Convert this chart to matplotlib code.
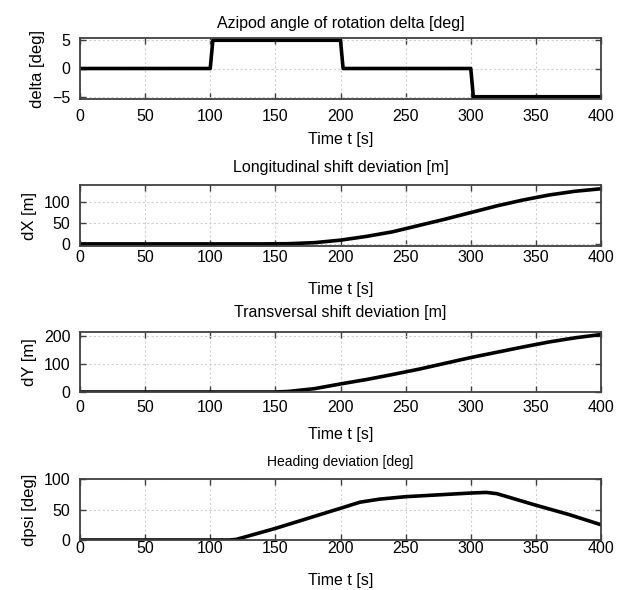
import matplotlib
matplotlib.use("Agg")
import matplotlib.pyplot as plt

plt.rcParams["font.family"] = ["Liberation Sans", "DejaVu Sans"]
plt.rcParams["font.size"] = 11

# rudder (azipod) angle, step manoeuvre
t_delta = [0, 100, 102, 200, 202, 300, 302, 400]
delta = [0, 0, 5, 5, 0, 0, -5, -5]

# longitudinal shift deviation
t_dx = [0, 100, 140, 160, 180, 200, 220, 240, 260, 280, 300, 320, 340, 360, 380, 400]
dx = [0, 0, 0, 0.5, 3, 9, 18, 29, 44, 59, 75, 91, 105, 117, 126, 132]

# transversal shift deviation
t_dy = [0, 100, 150, 160, 180, 200, 220, 240, 260, 280, 300, 320, 340, 360, 380, 400]
dy = [0, 0, 0, 2, 12, 29, 45, 63, 82, 103, 124, 143, 162, 180, 195, 207]

# heading deviation
t_psi = [0, 115, 120, 150, 200, 215, 230, 250, 275, 300, 312, 320, 350, 375, 400]
dpsi = [0, 0, 1, 19, 52, 62, 67, 71, 74, 77, 78, 76, 57, 42, 25]

titles = ["Azipod angle of rotation delta [deg]", "Longitudinal shift deviation [m]",
          "Transversal shift deviation [m]", "Heading deviation [deg]"]
ylabels = ["delta [deg]", "dX [m]", "dY [m]", "dpsi [deg]"]
ylims = [(-5.4, 5.4), (-5, 141), (0, 216), (0, 100)]
yticks = [[-5, 0, 5], [0, 50, 100], [0, 100, 200], [0, 50, 100]]
series = [(t_delta, delta), (t_dx, dx), (t_dy, dy), (t_psi, dpsi)]

W, H = 618, 590
# axes boxes in pixels (top, bottom) and per-panel text spacing
boxes = [(38, 99), (185, 246), (332, 392), (479, 540)]
left, right = 80, 601
tick_pads = [7.2, 3.0, 5.8, 0.8]
xlabel_pads = [5.9, 12.0, 8.8, 12.0]
title_pads = [7.5, 9.6, 11.0, 9.6]
title_sizes = [11.5, 11.5, 11.5, 10]

fig = plt.figure(figsize=(W / 100, H / 100), dpi=100)

for i, ((t, y), (top, bot)) in enumerate(zip(series, boxes)):
    ax = fig.add_axes([left / W, 1 - bot / H, (right - left) / W, (bot - top) / H])
    ax.plot(t, y, color="black", linewidth=2.6, solid_joinstyle="round")
    ax.set_xlim(0, 400)
    ax.set_ylim(*ylims[i])
    ax.set_xticks(range(0, 401, 50))
    ax.set_yticks(yticks[i])
    ax.grid(True, color="#d0d0d0", linestyle=(0, (2, 2)), linewidth=0.8)
    ax.tick_params(direction="in", top=True, right=True, length=4, width=1,
                   color="#404040", labelsize=11.5)
    ax.tick_params(axis="x", pad=tick_pads[i])
    ax.tick_params(axis="y", pad=7)
    for s in ax.spines.values():
        s.set_color("#404040")
        s.set_linewidth(1.3)
    ax.set_title(titles[i], fontsize=title_sizes[i], pad=title_pads[i])
    ax.set_xlabel("Time t [s]", fontsize=11.5, labelpad=xlabel_pads[i])
    ax.set_ylabel(ylabels[i], fontsize=12, labelpad=5)

fig.savefig("out.png", dpi=100)
